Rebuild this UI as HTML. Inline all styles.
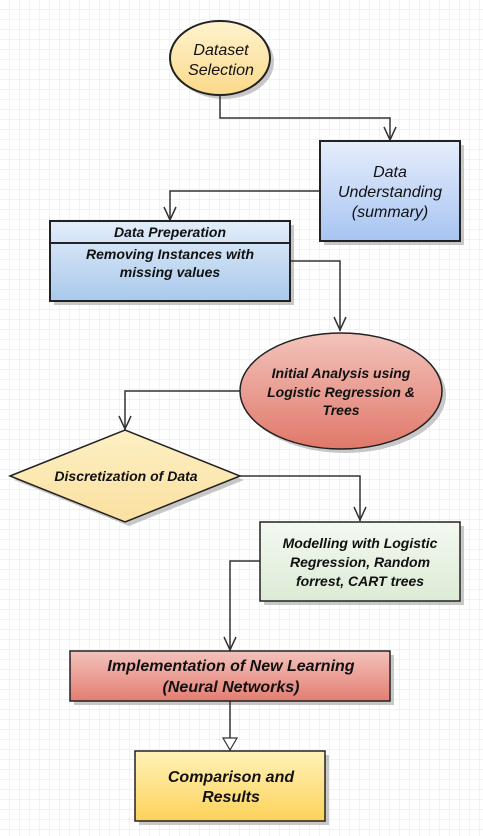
<!DOCTYPE html>
<html><head><style>
body{margin:0;width:483px;height:836px;overflow:hidden;background:#fff;}
svg{display:block}
text{font-family:"Liberation Sans",sans-serif;font-style:italic;fill:#111;text-anchor:middle}
</style></head><body>
<svg width="483" height="836" viewBox="0 0 483 836">
<defs>
<pattern id="g" width="10" height="10" patternUnits="userSpaceOnUse"><path d="M10 0V10M0 10H10" stroke="#e4e4ea" stroke-width="1" fill="none"/></pattern>
<linearGradient id="y1" x1="0" y1="0" x2="0" y2="1"><stop offset="0" stop-color="#fff3cf"/><stop offset="1" stop-color="#fbd98a"/></linearGradient>
<linearGradient id="b1" x1="0" y1="0" x2="0" y2="1"><stop offset="0" stop-color="#e6eefc"/><stop offset="1" stop-color="#a8c4f2"/></linearGradient>
<linearGradient id="b2" x1="0" y1="0" x2="0" y2="1"><stop offset="0" stop-color="#e3eefa"/><stop offset="1" stop-color="#a9c9eb"/></linearGradient>
<linearGradient id="r1" x1="0" y1="0" x2="0" y2="1"><stop offset="0" stop-color="#f3c4bc"/><stop offset="1" stop-color="#e0786a"/></linearGradient>
<linearGradient id="r2" x1="0" y1="0" x2="0" y2="1"><stop offset="0" stop-color="#f3c2bc"/><stop offset="1" stop-color="#e37e72"/></linearGradient>
<linearGradient id="d1" x1="0" y1="0" x2="0" y2="1"><stop offset="0" stop-color="#fdf0c4"/><stop offset="1" stop-color="#fbe0a0"/></linearGradient>
<linearGradient id="gr" x1="0" y1="0" x2="0" y2="1"><stop offset="0" stop-color="#f4f9f1"/><stop offset="1" stop-color="#dcebd5"/></linearGradient>
<linearGradient id="y2" x1="0" y1="0" x2="0" y2="1"><stop offset="0" stop-color="#fff2b8"/><stop offset="1" stop-color="#fdd25a"/></linearGradient>
</defs>
<rect width="483" height="836" fill="url(#g)"/>
<g fill="#b0b0b0" opacity="0.7">
<ellipse cx="224" cy="62" rx="50" ry="37"/>
<rect x="324" y="145" width="140" height="100"/>
<rect x="54" y="225" width="240" height="80"/>
<ellipse cx="345" cy="395" rx="101" ry="58"/>
<polygon points="14,480 129,434 244,480 129,526"/>
<rect x="264" y="526" width="200" height="79"/>
<rect x="74" y="655" width="320" height="50"/>
<rect x="139" y="755" width="190" height="70"/>
</g>
<g stroke="#333" stroke-width="1.5" fill="none">
<path d="M220 96V118H390V141"/><path d="M384 127L390 140L396 127"/>
<path d="M320 191H170V221"/><path d="M164 207L170 220L176 207"/>
<path d="M290 261H340V331"/><path d="M334 317L340 330L346 317"/>
<path d="M240 391H125V430"/><path d="M119 416L125 429L131 416"/>
<path d="M240 476H360V521"/><path d="M354 507L360 520L366 507"/>
<path d="M260 561H230V651"/><path d="M224 637L230 650L236 637"/>
<path d="M230 701V738"/>
</g>
<polygon points="223,738 237,738 230,750" fill="#fff" stroke="#333" stroke-width="1.2"/>
<g stroke="#222" stroke-width="2">
<ellipse cx="220" cy="58" rx="50" ry="37" fill="url(#y1)"/>
<rect x="320" y="141" width="140" height="100" fill="url(#b1)"/>
<rect x="50" y="221" width="240" height="80" fill="url(#b2)"/>
<line x1="50" y1="243" x2="290" y2="243"/>
<ellipse cx="341" cy="391" rx="101" ry="58" fill="url(#r1)" stroke-width="1.5"/>
<polygon points="10,476 125,430 240,476 125,522" fill="url(#d1)" stroke-width="1.5"/>
<rect x="260" y="522" width="200" height="79" fill="url(#gr)" stroke-width="1.5"/>
<rect x="70" y="651" width="320" height="50" fill="url(#r2)" stroke-width="1.5"/>
<rect x="135" y="751" width="190" height="70" fill="url(#y2)" stroke-width="1.5"/>
</g>
<text x="221" y="55" font-size="16">Dataset</text>
<text x="221" y="75" font-size="16">Selection</text>
<text x="390" y="177" font-size="16">Data</text>
<text x="390" y="197" font-size="16">Understanding</text>
<text x="390" y="217" font-size="16">(summary)</text>
<text x="170" y="237" font-size="14" font-weight="bold">Data Preperation</text>
<text x="170" y="259" font-size="14" font-weight="bold">Removing Instances with</text>
<text x="170" y="277" font-size="14" font-weight="bold">missing values</text>
<text x="341" y="378" font-size="14" font-weight="bold">Initial Analysis using</text>
<text x="341" y="397" font-size="14" font-weight="bold">Logistic Regression &amp;</text>
<text x="341" y="415" font-size="14" font-weight="bold">Trees</text>
<text x="126" y="481" font-size="14" font-weight="bold">Discretization of Data</text>
<text x="360" y="548" font-size="14" font-weight="bold">Modelling with Logistic</text>
<text x="360" y="567" font-size="14" font-weight="bold">Regression, Random</text>
<text x="360" y="586" font-size="14" font-weight="bold">forrest, CART trees</text>
<text x="231" y="671" font-size="16" font-weight="bold">Implementation of New Learning</text>
<text x="231" y="692" font-size="16" font-weight="bold">(Neural Networks)</text>
<text x="231" y="782" font-size="16" font-weight="bold">Comparison and</text>
<text x="231" y="802" font-size="16" font-weight="bold">Results</text>
</svg>
</body></html>
